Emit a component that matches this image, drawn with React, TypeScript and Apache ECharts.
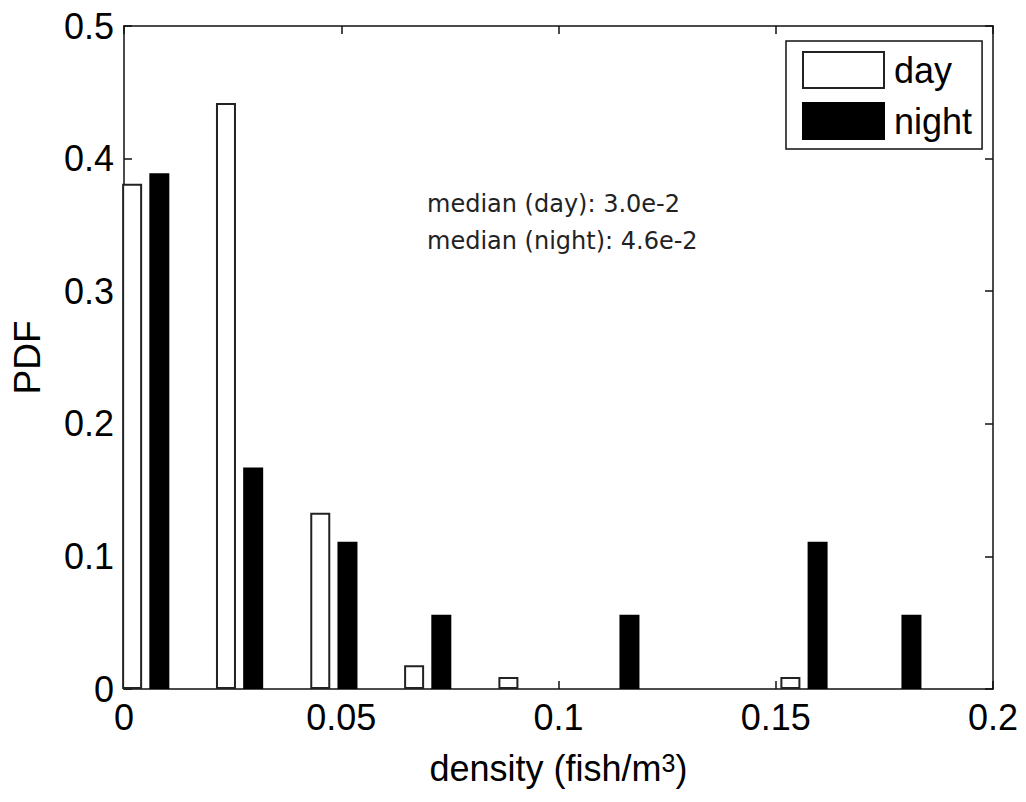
import React, { useEffect, useRef } from 'react';
import * as echarts from 'echarts';

// Histogram bin centres (fish/m^3) and the PDF of each bin
const binCenters = [0.005, 0.0266, 0.0483, 0.0699, 0.0916, 0.1132, 0.1348, 0.1565, 0.1781];
const dayPdf = [0.381, 0.442, 0.133, 0.018, 0.009, 0, 0, 0.009, 0];
const nightPdf = [0.389, 0.167, 0.111, 0.056, 0, 0.056, 0, 0.111, 0.056];
const seriesNames = ['day', 'night'];
const medianLines = ['median (day): 3.0e-2', 'median (night): 4.6e-2'];

const FONT = 'Liberation Sans, Arial, sans-serif';
const AXIS_COLOR = '#111';

const fmt = (v: number) => String(+Number(v).toFixed(4));
// empty bins are not drawn (they would only be a line on the axis)
const toPoints = (ys: number[]) => binCenters.map((x, i) => [x, ys[i] > 0 ? ys[i] : null]);

export default function App() {
  const ref = useRef<HTMLDivElement>(null);

  useEffect(() => {
    if (!ref.current) return;
    const chart = echarts.init(ref.current, undefined, { renderer: 'svg' });

    const line = { show: true, onZero: false, lineStyle: { color: AXIS_COLOR, width: 1.5 } };
    const tick = { show: true, inside: true, length: 8, lineStyle: { color: AXIS_COLOR, width: 1.5 } };

    chart.setOption({
      animation: false,
      backgroundColor: '#fff',
      grid: { left: 124, top: 26, width: 869, height: 667, containLabel: false },
      legend: {
        data: seriesNames,
        orient: 'vertical',
        left: 786,
        top: 41,
        padding: [10, 10, 9, 16],
        itemWidth: 81,
        itemHeight: 36,
        itemGap: 13,
        icon: 'rect',
        borderColor: AXIS_COLOR,
        borderWidth: 1.5,
        backgroundColor: '#fff',
        textStyle: { fontSize: 36, fontFamily: FONT, color: '#000', padding: [0, 0, 0, 5] },
      },
      xAxis: [
        {
          type: 'value',
          position: 'bottom',
          min: 0,
          max: 0.2,
          interval: 0.05,
          axisLine: line,
          axisTick: tick,
          splitLine: { show: false },
          axisLabel: { fontSize: 36, fontFamily: FONT, color: '#000', margin: 10, formatter: fmt },
          name: '{a|density (fish/m}{sup|3}{a|)}',
          nameLocation: 'middle',
          nameGap: 61,
          nameTextStyle: {
            rich: {
              a: { fontSize: 36, lineHeight: 36, fontFamily: FONT, color: '#000', verticalAlign: 'bottom' },
              sup: {
                fontSize: 25,
                lineHeight: 25,
                fontFamily: FONT,
                color: '#000',
                verticalAlign: 'top',
                padding: [0, 0, 22, 0],
              },
            },
          },
        },
        {
          type: 'value',
          position: 'top',
          min: 0,
          max: 0.2,
          interval: 0.05,
          axisLine: line,
          axisTick: tick,
          splitLine: { show: false },
          axisLabel: { show: false },
        },
      ],
      yAxis: [
        {
          type: 'value',
          position: 'left',
          min: 0,
          max: 0.5,
          interval: 0.1,
          axisLine: line,
          axisTick: tick,
          splitLine: { show: false },
          axisLabel: { fontSize: 36, fontFamily: FONT, color: '#000', margin: 10, formatter: fmt },
          name: 'PDF',
          nameLocation: 'middle',
          nameGap: 78,
          nameTextStyle: { fontSize: 37, fontFamily: FONT, color: '#000' },
        },
        {
          type: 'value',
          position: 'right',
          min: 0,
          max: 0.5,
          interval: 0.1,
          axisLine: line,
          axisTick: tick,
          splitLine: { show: false },
          axisLabel: { show: false },
        },
      ],
      series: [
        {
          name: seriesNames[0],
          type: 'bar',
          xAxisIndex: 0,
          yAxisIndex: 0,
          barWidth: 20,
          barGap: '36%',
          clip: true,
          data: toPoints(dayPdf),
          itemStyle: { color: '#fff', borderColor: '#222', borderWidth: 2 },
        },
        {
          name: seriesNames[1],
          type: 'bar',
          xAxisIndex: 0,
          yAxisIndex: 0,
          barWidth: 20,
          barGap: '36%',
          clip: true,
          data: toPoints(nightPdf),
          itemStyle: { color: '#000', borderColor: '#000', borderWidth: 2 },
        },
      ],
      graphic: medianLines.map((t, i) => ({
        type: 'text',
        x: 427,
        y: 204 + i * 37,
        style: {
          text: t,
          fontSize: 24,
          fontFamily: 'DejaVu Sans, sans-serif',
          fill: '#222',
          verticalAlign: 'middle',
        },
      })),
    });

    return () => chart.dispose();
  }, []);

  return (
    <div
      ref={ref}
      style={{ position: 'fixed', left: 0, top: 0, width: 1026, height: 802, background: '#fff' }}
    />
  );
}
